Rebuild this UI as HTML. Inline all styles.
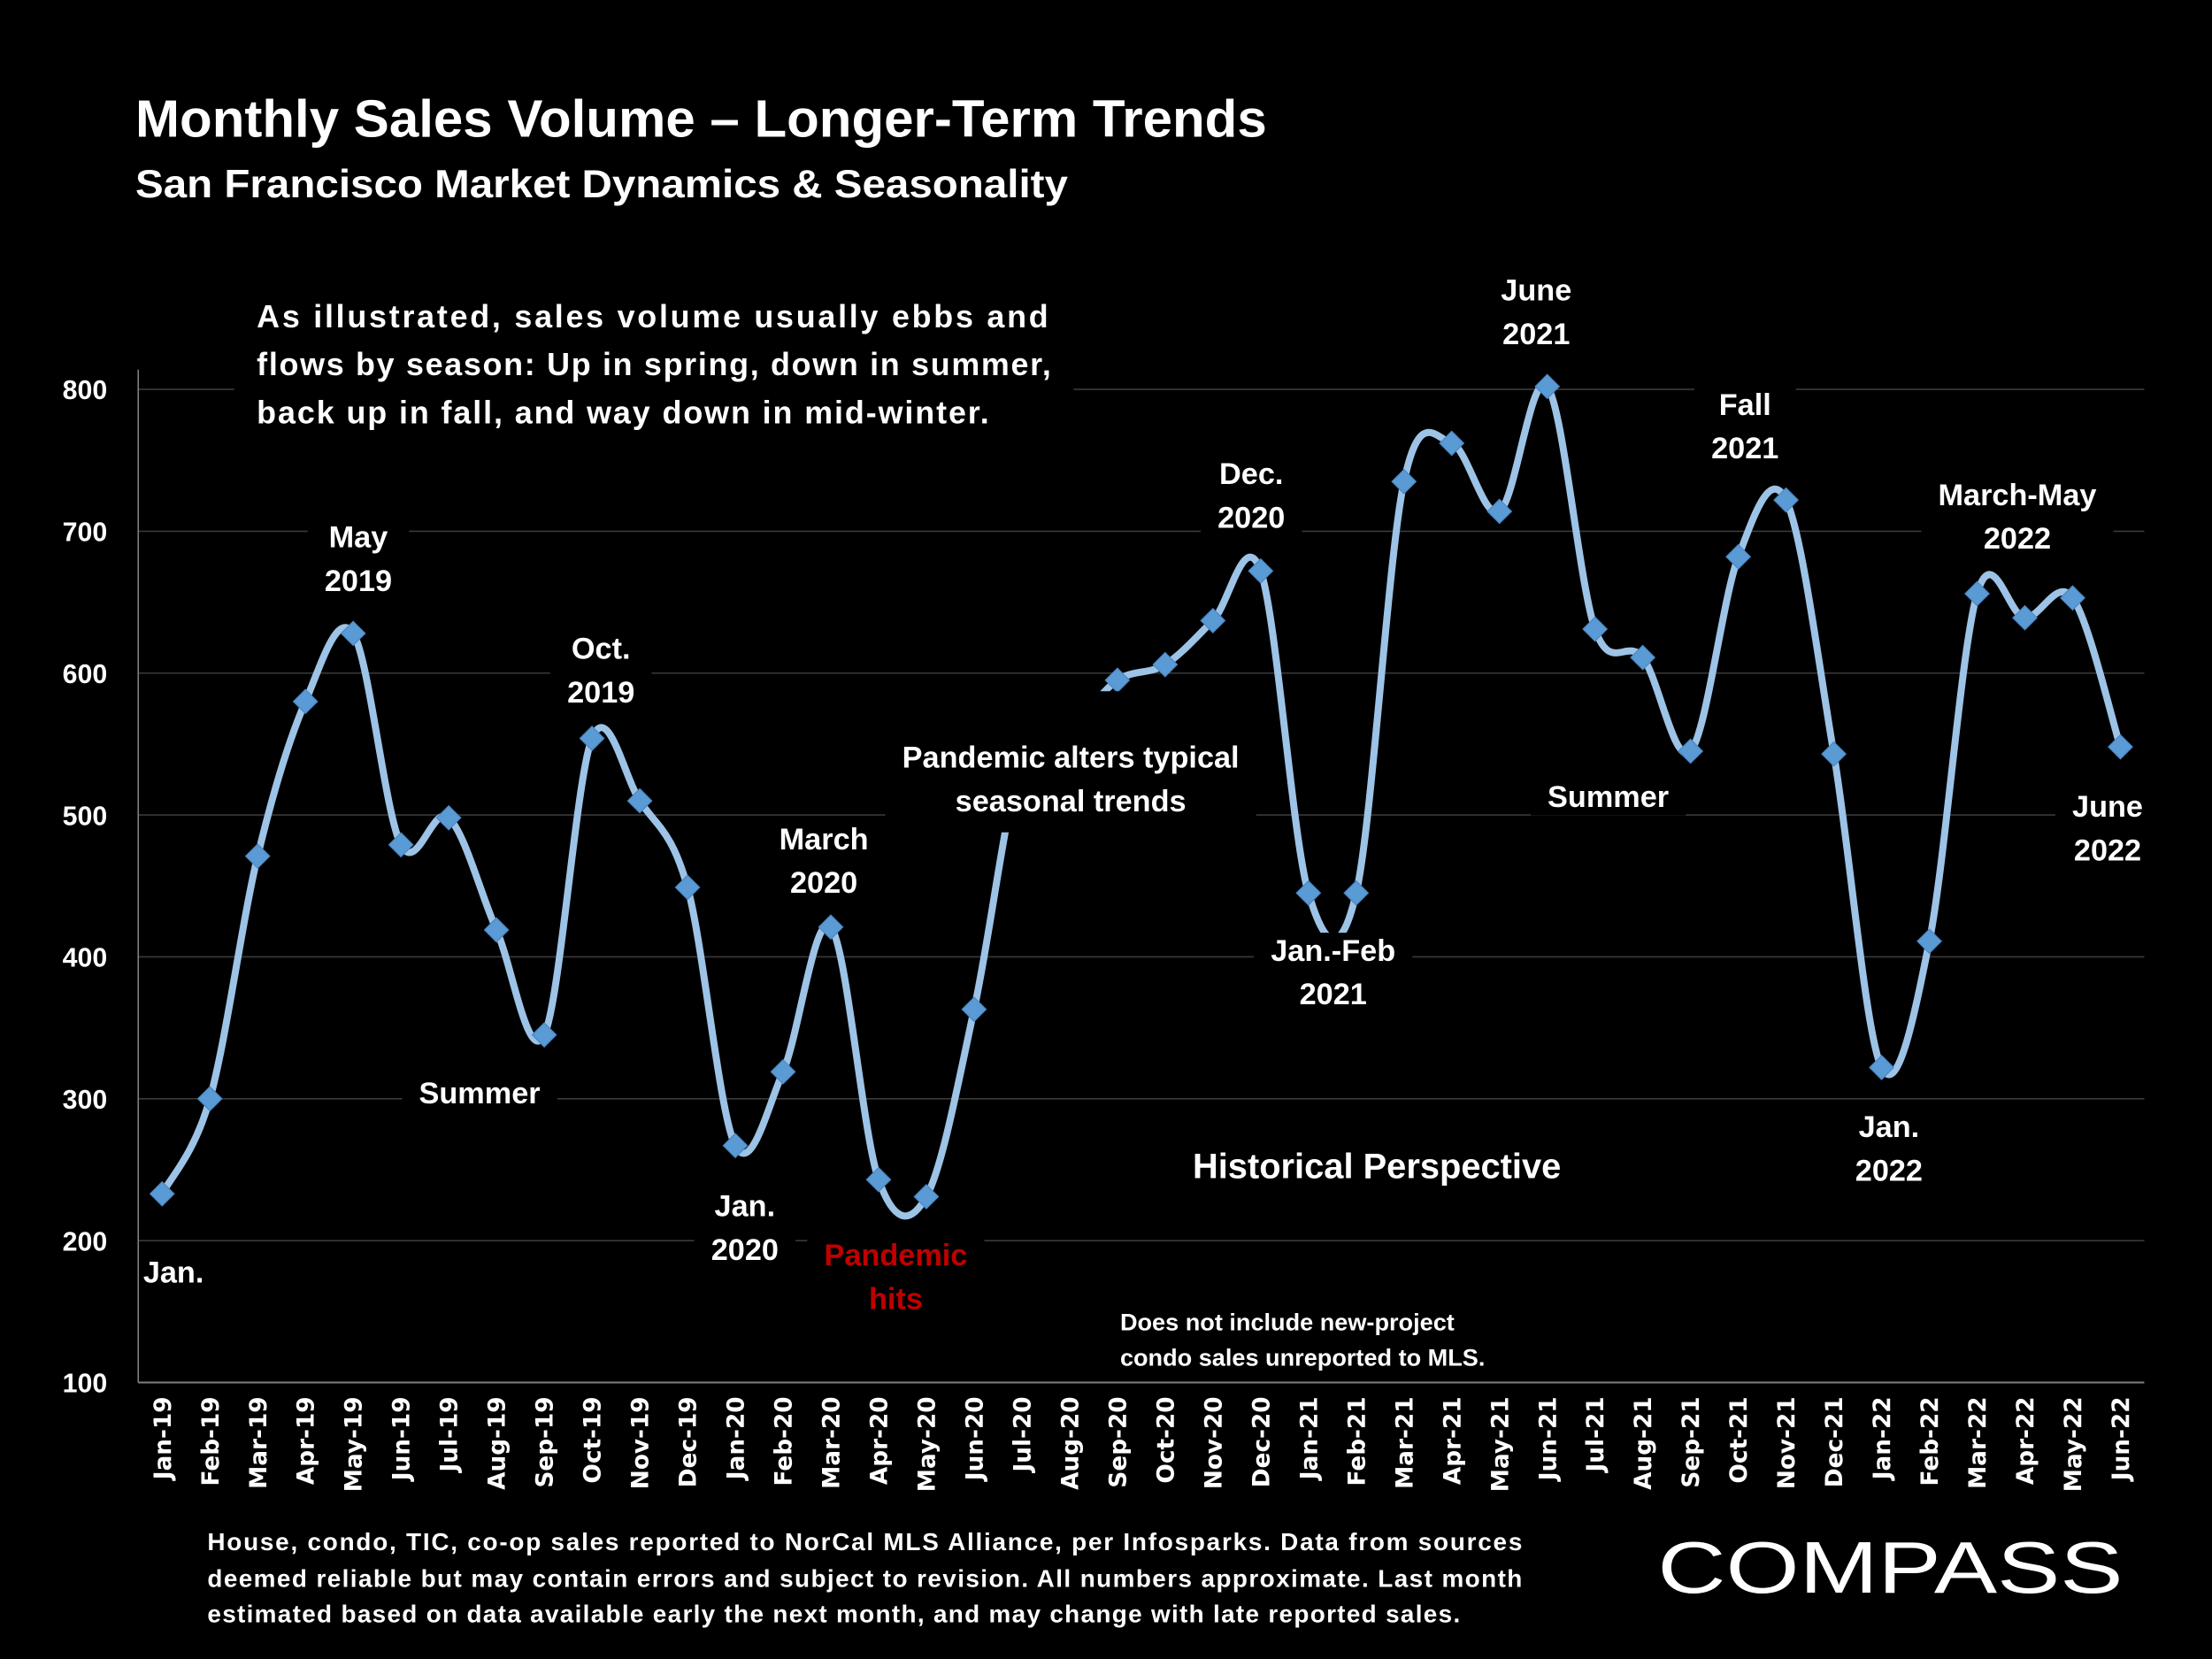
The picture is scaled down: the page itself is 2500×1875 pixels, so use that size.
<!DOCTYPE html>
<html><head><meta charset="utf-8"><style>
html,body{margin:0;padding:0;background:#000;}
svg{display:block;}
text{font-family:"Liberation Sans",sans-serif;font-weight:bold;fill:#fff;}
</style></head><body>
<svg id="chart" width="2500" height="1875" viewBox="0 0 1568 1176" xmlns="http://www.w3.org/2000/svg">
<rect x="0" y="0" width="1568" height="1176" fill="#000"/>
<text x="96" y="97" font-size="37" textLength="802" lengthAdjust="spacingAndGlyphs">Monthly Sales Volume – Longer-Term Trends</text>
<text x="96" y="140" font-size="28" textLength="661" lengthAdjust="spacingAndGlyphs">San Francisco Market Dynamics &amp; Seasonality</text>
<g id="grid"></g>
<g id="xlabels"></g>
<g id="series"></g>
<g id="annos"></g>
<g id="axes"></g>
<g font-size="17.5">
<text x="147" y="1099" textLength="932" lengthAdjust="spacing">House, condo, TIC, co-op sales reported to NorCal MLS Alliance, per Infosparks. Data from sources</text>
<text x="147" y="1125" textLength="932" lengthAdjust="spacing">deemed reliable but may contain errors and subject to revision. All numbers approximate. Last month</text>
<text x="147" y="1150" textLength="888" lengthAdjust="spacing">estimated based on data available early the next month, and may change with late reported sales.</text>
</g>
<text x="1175" y="1129" font-size="52" style="font-weight:normal" textLength="330" lengthAdjust="spacingAndGlyphs">COMPASS</text>
</svg>
<script>
const categories=["Jan-19","Feb-19","Mar-19","Apr-19","May-19","Jun-19","Jul-19","Aug-19","Sep-19","Oct-19","Nov-19","Dec-19","Jan-20","Feb-20","Mar-20","Apr-20","May-20","Jun-20","Jul-20","Aug-20","Sep-20","Oct-20","Nov-20","Dec-20","Jan-21","Feb-21","Mar-21","Apr-21","May-21","Jun-21","Jul-21","Aug-21","Sep-21","Oct-21","Nov-21","Dec-21","Jan-22","Feb-22","Mar-22","Apr-22","May-22","Jun-22"];
const salesValues=[233,300,471,580,628,479,498,419,345,554,510,449,267,319,421,243,231,363,540,560,595,606,637,672,445,445,735,762,714,802,631,611,545,682,722,543,322,411,656,639,653,548];
const yTicks=[100,200,300,400,500,600,700,800];

const NS="http://www.w3.org/2000/svg";
const L=98,R=1520,T=276,B=980,yMin=100,yMax=800;
const band=(R-L)/categories.length;
function xPos(i){return L+band*(i+0.5);}
function yPos(v){return B-(v-yMin)/(yMax-yMin)*(B-T);}
function mk(tag,attrs,parent){const e=document.createElementNS(NS,tag);for(const k in attrs)e.setAttribute(k,attrs[k]);parent.appendChild(e);return e;}

const grid=document.getElementById('grid');
yTicks.forEach(v=>{
  const y=yPos(v);
  if(v>yMin){const g=mk('line',{x1:L,x2:R,y1:y,y2:y,stroke:'#3a3a3a','stroke-width':1},grid);
  
  }
  const t=mk('text',{x:76,y:y+7,'text-anchor':'end','font-size':19},grid);
  t.textContent=v;
  
  
});
const axes=document.getElementById('axes');
const ax=mk('line',{x1:L,x2:L,y1:262,y2:B,stroke:'#7f7f7f','stroke-width':1},axes);


const bx=mk('line',{x1:L,x2:R,y1:B,y2:B,stroke:'#7f7f7f','stroke-width':1.2},axes);



const xl=document.getElementById('xlabels');
categories.forEach((c,i)=>{
  const x=xPos(i)+6,y=990;
  const t=mk('text',{x:x,y:y,'text-anchor':'end','font-size':16.5,transform:`rotate(-90 ${x} ${y})`,style:'font-family:"DejaVu Sans",sans-serif;font-weight:bold'},xl);
  t.textContent=c;
  
  
});

const ser=document.getElementById('series');
const pts=salesValues.map((v,i)=>[xPos(i),yPos(v)]);
let d=`M${pts[0][0]},${pts[0][1]}`;
for(let i=0;i<pts.length-1;i++){
  const p0=pts[Math.max(0,i-1)],p1=pts[i],p2=pts[i+1],p3=pts[Math.min(pts.length-1,i+2)];
  const k=1/6;
  const c1=[p1[0]+(p2[0]-p0[0])*k,p1[1]+(p2[1]-p0[1])*k];
  const c2=[p2[0]-(p3[0]-p1[0])*k,p2[1]-(p3[1]-p1[1])*k];
  d+=` C${c1[0]},${c1[1]} ${c2[0]},${c2[1]} ${p2[0]},${p2[1]}`;
}
const line=mk('path',{d:d,fill:'none',stroke:'#9dc3e6','stroke-width':5,'stroke-linejoin':'round'},ser);


pts.forEach((p,i)=>{
  const s=8.5;
  const m=mk('polygon',{points:`${p[0]},${p[1]-s} ${p[0]+s},${p[1]} ${p[0]},${p[1]+s} ${p[0]-s},${p[1]}`,fill:'#5b9bd5',stroke:'#4a88c4','stroke-width':0.8},ser);
  
  
});

const annos=document.getElementById('annos');
const notes=[
 {n:'intro-text',lines:['As illustrated, sales volume usually ebbs and','flows by season: Up in spring, down in summer,','back up in fall, and way down in mid-winter.'],x:182,y:232,dy:34,fs:22.5,anchor:'start',lens:[561,563,519],px:16,py:6},
 {n:'may-2019-label',lines:['May','2019'],x:254,y:388},
 {n:'oct-2019-label',lines:['Oct.','2019'],x:426,y:467},
 {n:'summer-2019-label',lines:['Summer'],x:340,y:782},
 {n:'jan-2019-label',lines:['Jan.'],x:123,y:909},
 {n:'jan-2020-label',lines:['Jan.','2020'],x:528,y:862},
 {n:'march-2020-label',lines:['March','2020'],x:584,y:602},
 {n:'pandemic-hits-label',lines:['Pandemic','hits'],x:635,y:897,color:'#c00000'},
 {n:'pandemic-alters-label',lines:['Pandemic alters typical','seasonal trends'],x:759,y:544,box:[700,490,830,590]},
 {n:'dec-2020-label',lines:['Dec.','2020'],x:887,y:343},
 {n:'jan-feb-2021-label',lines:['Jan.-Feb','2021'],x:945,y:681},
 {n:'june-2021-label',lines:['June','2021'],x:1089,y:213},
 {n:'fall-2021-label',lines:['Fall','2021'],x:1237,y:294},
 {n:'summer-2021-label',lines:['Summer'],x:1140,y:572},
 {n:'march-may-2022-label',lines:['March-May','2022'],x:1430,y:358},
 {n:'june-2022-label',lines:['June','2022'],x:1494,y:579},
 {n:'jan-2022-label',lines:['Jan.','2022'],x:1339,y:806},
 {n:'historical-perspective-label',lines:['Historical Perspective'],x:976,y:835,fs:25},
 {n:'mls-note',lines:['Does not include new-project','condo sales unreported to MLS.'],x:794,y:943,dy:25,fs:17,anchor:'start'}
];
notes.forEach(o=>{
  const g=mk('g',{},annos);
  
  
  const bg=mk('rect',{fill:'#000'},g);
  const fs=o.fs||21.5,dy=o.dy||31;
  o.lines.forEach((ln,j)=>{
    const a={x:o.x,y:o.y+j*dy,'text-anchor':o.anchor||'middle','font-size':fs};
    if(o.lens){a.textLength=o.lens[j];a.lengthAdjust='spacing';}
    const t=mk('text',a,g);
    if(o.color)t.setAttribute('style','fill:'+o.color);
    t.textContent=ln;
  });
  const bb=g.getBBox();
  const px=o.px||12,py=o.py||1;
  let x0=bb.x-px,y0=bb.y-py,x1=bb.x+bb.width+px,y1=bb.y+bb.height+py;
  if(o.box){x0=Math.min(x0,o.box[0]);y0=Math.min(y0,o.box[1]);x1=Math.max(x1,o.box[2]);y1=Math.max(y1,o.box[3]);}
  bg.setAttribute('x',x0);bg.setAttribute('y',y0);
  bg.setAttribute('width',x1-x0);bg.setAttribute('height',y1-y0);
});
</script>
</body></html>
